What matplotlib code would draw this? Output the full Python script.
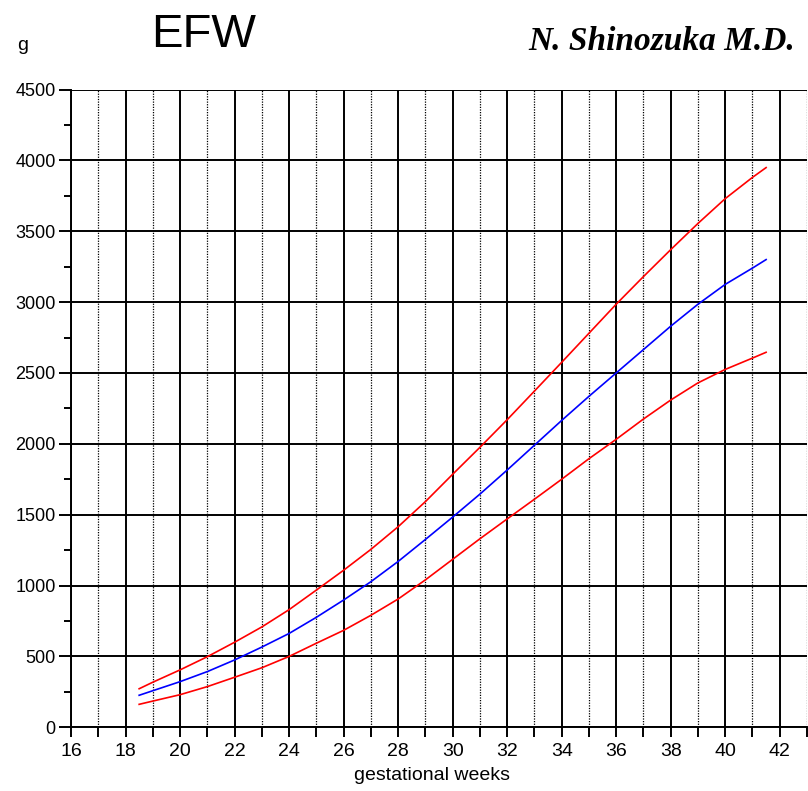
import matplotlib
matplotlib.use("Agg")
import matplotlib.pyplot as plt
from matplotlib.ticker import MultipleLocator, FixedLocator

weeks = [18.5, 19, 20, 21, 22, 23, 24, 25, 26, 27, 28, 29, 30, 31, 32, 33, 34,
         35, 36, 37, 38, 39, 40, 41, 41.5]
upper = [272, 318, 405, 498, 600, 708, 830, 968, 1108, 1255, 1415, 1592, 1785,
         1975, 2170, 2372, 2575, 2780, 2985, 3180, 3370, 3555, 3730, 3880, 3949]
mean = [226, 258, 322, 393, 475, 566, 662, 776, 898, 1027, 1170, 1325, 1483,
        1645, 1815, 1990, 2165, 2335, 2500, 2665, 2830, 2985, 3125, 3240, 3300]
lower = [162, 185, 230, 287, 353, 420, 500, 593, 684, 790, 905, 1040, 1185,
         1330, 1470, 1609, 1750, 1895, 2032, 2175, 2309, 2430, 2525, 2605, 2646]

x_major = list(range(16, 43, 2))
x_minor = list(range(17, 44, 2))
y_major = list(range(0, 4501, 500))

W, H = 808, 791
fig = plt.figure(figsize=(W / 100, H / 100), dpi=100)
ax = fig.add_axes([71 / W, (H - 727.3) / H, (807 - 71) / W, (727.3 - 89.5) / H])

ax.set_xlim(16, 43)
ax.set_ylim(0, 4500)

ax.xaxis.set_major_locator(FixedLocator(x_major))
ax.xaxis.set_minor_locator(FixedLocator(x_minor))
ax.yaxis.set_major_locator(FixedLocator(y_major))
ax.yaxis.set_minor_locator(MultipleLocator(250))

ax.xaxis.grid(True, which='major', color='black', linewidth=1.4, linestyle='-')
ax.xaxis.grid(True, which='minor', color='black', linewidth=0.9, linestyle=(0, (1, 1.1)))
ax.yaxis.grid(True, which='major', color='black', linewidth=1.4, linestyle='-')
ax.set_axisbelow(True)

for s in ['top', 'right']:
    ax.spines[s].set_visible(False)
for s in ['left', 'bottom']:
    ax.spines[s].set_linewidth(1.4)

ax.tick_params(axis='x', which='both', direction='out', length=7, width=1.4,
               pad=4, labelsize=14)
ax.tick_params(axis='y', which='major', direction='out', length=9, width=1.4,
               pad=2, labelsize=13)
ax.tick_params(axis='y', which='minor', direction='out', length=5, width=1.4)
ax.set_xticklabels([str(v) for v in x_major], fontfamily='Liberation Sans', fontsize=14)
ax.set_yticklabels([str(v) for v in y_major], fontfamily='Liberation Sans', fontsize=13)

ax.plot(weeks, upper, color='#ff0000', linewidth=1.2, zorder=3)
ax.plot(weeks, mean, color='#0000ff', linewidth=1.2, zorder=3)
ax.plot(weeks, lower, color='#ff0000', linewidth=1.2, zorder=3)

fig.text(432 / W, 1 - 776 / H, 'gestational weeks', ha='center', va='center',
         fontfamily='Liberation Sans', fontsize=14)
fig.text(23 / W, 1 - 46 / H, 'g', ha='center', va='center',
         fontfamily='Liberation Sans', fontsize=14)
fig.text(151 / W, 1 - 35 / H, 'EFW', ha='left', va='center',
         fontfamily='Liberation Sans', fontsize=34)
fig.text(795 / W, 1 - 42 / H, 'N. Shinozuka M.D.', ha='right', va='center',
         fontfamily='Liberation Serif', fontstyle='italic', fontweight='bold',
         fontsize=24)

fig.savefig('out.png', dpi=100)
